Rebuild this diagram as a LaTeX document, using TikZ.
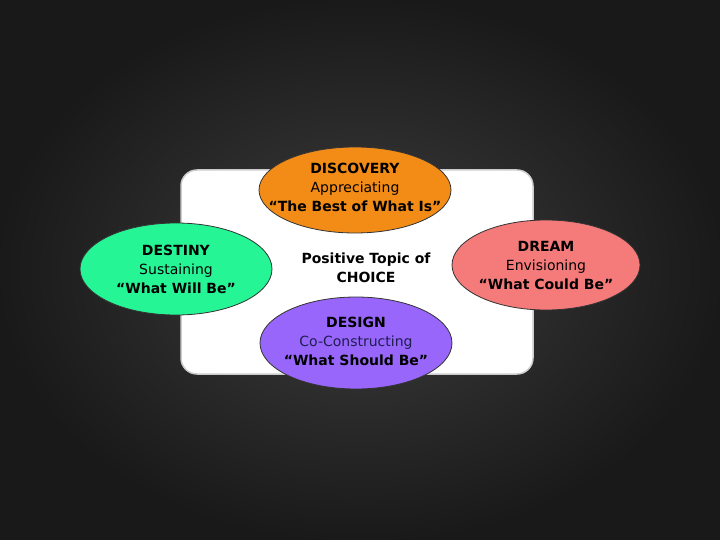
\documentclass[tikz,border=0pt]{standalone}
\usepackage{fontspec}
\setmainfont{DejaVu Sans}
\usetikzlibrary{shapes.geometric,positioning,calc}
\definecolor{discoverycol}{RGB}{242,140,22}
\definecolor{destinycol}{RGB}{38,245,150}
\definecolor{dreamcol}{RGB}{245,122,122}
\definecolor{designcol}{RGB}{152,102,250}
\definecolor{navytext}{RGB}{30,30,80}

\begin{document}
\begin{tikzpicture}[x=1pt,y=-1pt,
    phase/.style={ellipse,draw=black!80,line width=0.8pt,minimum width=192pt,minimum height=88pt,inner sep=-30pt,align=center,font=\fontsize{14}{19}\selectfont}]
    % Background
    \fill[inner color=black!76,outer color=black!90] (0,0) rectangle (720,540);
    \useasboundingbox (0,0) rectangle (720,540);
    % Topic panel
    \draw[fill=white,draw=black!20,line width=1.5pt,rounded corners=16pt] (181,170) rectangle (533,374);
    \node[align=center,font=\fontsize{14}{19}\selectfont\bfseries] (topic) at (366,268) {Positive Topic of\\CHOICE};

    % Phases
    \node[phase,fill=discoverycol,minimum height=86pt,text depth=5pt] (discovery) at (355,190) {\textbf{DISCOVERY}\\Appreciating\\\textbf{``The Best of What Is''}};
    \node[phase,fill=destinycol,minimum height=92pt] (destiny) at (176,269) {\textbf{DESTINY}\\Sustaining\\\textbf{``What Will Be''}};
    \node[phase,fill=dreamcol,minimum width=188pt,minimum height=90pt] (dream) at (546,265) {\textbf{DREAM}\\Envisioning\\\textbf{``What Could Be''}};
    \node[phase,fill=designcol,minimum height=92pt,text depth=4pt] (design) at (356,343) {\textbf{DESIGN}\\\textcolor{navytext}{Co-Constructing}\\\textbf{``What Should Be''}};
\end{tikzpicture}
\end{document}
